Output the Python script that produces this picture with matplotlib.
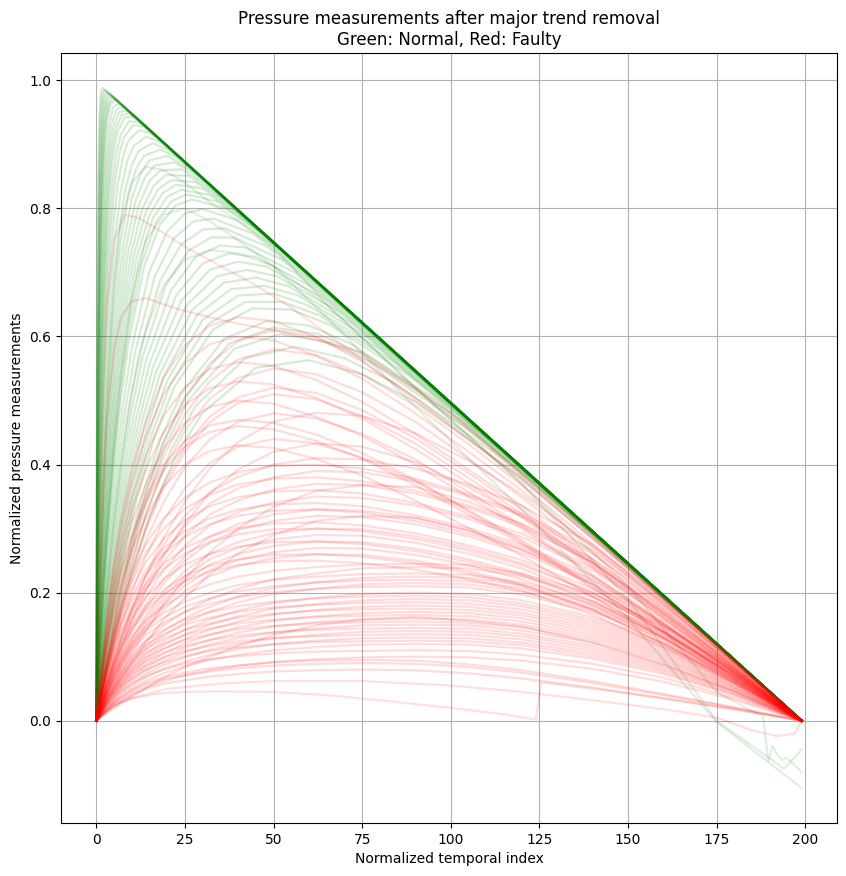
import numpy as np
import matplotlib
matplotlib.use("Agg")
import matplotlib.pyplot as plt

# normal runs (green): each run read at its own indices, dense on the rise,
# then straight down the trend line to the last index
normal_t = [
    [0, .075, .15, .225, .3, .45, .6, .75, .9, 1.2, 1.5, 1.8, 199],
    [0, .1, .2, .3, .4, .6, .8, 1, 1.2, 1.6, 2, 2.4, 199],
    [0, .125, .25, .375, .5, .75, 1, 1.25, 1.5, 2, 2.5, 3, 199],
    [0, .15, .3, .45, .6, .9, 1.2, 1.5, 1.8, 2.4, 3, 3.6, 199],
    [0, .175, .35, .525, .7, 1.05, 1.4, 1.75, 2.1, 2.8, 3.5, 4.2, 199],
    [0, .2, .4, .6, .8, 1.2, 1.6, 2, 2.4, 3.2, 4, 4.8, 199],
    [0, .225, .45, .675, .9, 1.35, 1.8, 2.25, 2.7, 3.6, 4.5, 5.4, 199],
    [0, .25, .5, .75, 1, 1.5, 2, 2.5, 3, 4, 5, 6, 199],
    [0, .3, .6, .9, 1.2, 1.8, 2.4, 3, 3.6, 4.8, 6, 7.2, 199],
    [0, .35, .7, 1.05, 1.4, 2.1, 2.8, 3.5, 4.2, 5.6, 7, 8.4, 199],
    [0, .4, .8, 1.2, 1.6, 2.4, 3.2, 4, 4.8, 6.4, 8, 9.6, 199],
    [0, .45, .9, 1.35, 1.8, 2.7, 3.6, 4.5, 5.4, 7.2, 9, 10.8, 199],
    [0, .5, 1, 1.5, 2, 3, 4, 5, 6, 8, 10, 12, 199],
    [0, .575, 1.15, 1.725, 2.3, 3.45, 4.6, 5.75, 6.9, 9.2, 11.5, 13.8, 199],
    [0, .65, 1.3, 1.95, 2.6, 3.9, 5.2, 6.5, 7.8, 10.4, 13, 15.6, 199],
    [0, .75, 1.5, 2.25, 3, 4.5, 6, 7.5, 9, 12, 15, 18, 199],
    [0, .875, 1.75, 2.625, 3.5, 5.25, 7, 8.75, 10.5, 14, 17.5, 21, 199],
    [0, 1, 2, 3, 4, 6, 8, 10, 12, 16, 20, 24, 199],
    [0, 1.125, 2.25, 3.375, 4.5, 6.75, 9, 11.25, 13.5, 18, 22.5, 27, 199],
    [0, 1.25, 2.5, 3.75, 5, 7.5, 10, 12.5, 15, 20, 25, 30, 199],
    [0, 1.375, 2.75, 4.125, 5.5, 8.25, 11, 13.75, 16.5, 22, 27.5, 33, 199],
    [0, 1.5, 3, 4.5, 6, 9, 12, 15, 18, 24, 30, 36, 199],
    [0, 1.625, 3.25, 4.875, 6.5, 9.75, 13, 16.25, 19.5, 26, 32.5, 39, 199],
    [0, 1.75, 3.5, 5.25, 7, 10.5, 14, 17.5, 21, 28, 35, 42, 199],
    [0, 1.875, 3.75, 5.625, 7.5, 11.25, 15, 18.75, 22.5, 30, 37.5, 45, 199],
    [0, 2, 4, 6, 8, 12, 16, 20, 24, 32, 40, 48, 199],
    [0, 2.125, 4.25, 6.375, 8.5, 12.75, 17, 21.25, 25.5, 34, 42.5, 51, 199],
    [0, 2.25, 4.5, 6.75, 9, 13.5, 18, 22.5, 27, 36, 45, 54, 199],
    [0, 2.5, 5, 7.5, 10, 15, 20, 25, 30, 40, 50, 60, 199],
    [0, 2.75, 5.5, 8.25, 11, 16.5, 22, 27.5, 33, 44, 55, 66, 199],
    [0, 3, 6, 9, 12, 18, 24, 30, 36, 48, 60, 72, 199],
    [0, 3.25, 6.5, 9.75, 13, 19.5, 26, 32.5, 39, 52, 65, 78, 199],
    [0, 3.5, 7, 10.5, 14, 21, 28, 35, 42, 56, 70, 84, 199],
    [0, 3.75, 7.5, 11.25, 15, 22.5, 30, 37.5, 45, 60, 75, 90, 199],
    [0, 4, 8, 12, 16, 24, 32, 40, 48, 64, 80, 96, 199],
    [0, 4.25, 8.5, 12.75, 17, 25.5, 34, 42.5, 51, 68, 85, 102, 199],
    [0, 4.5, 9, 13.5, 18, 27, 36, 45, 54, 72, 90, 108, 199],
    [0, 4.75, 9.5, 14.25, 19, 28.5, 38, 47.5, 57, 76, 95, 114, 199],
    [0, 5, 10, 15, 20, 30, 40, 50, 60, 80, 100, 120, 199],
    [0, 5.25, 10.5, 15.75, 21, 31.5, 42, 52.5, 63, 84, 105, 126, 199],
    [0, 5.5, 11, 16.5, 22, 33, 44, 55, 66, 88, 110, 132, 199],
    [0, 6, 12, 18, 24, 36, 48, 60, 72, 96, 120, 144, 199],
    [0, 6.25, 12.5, 18.75, 25, 37.5, 50, 62.5, 75, 100, 125, 150, 199],
    [0, 6.5, 13, 19.5, 26, 39, 52, 65, 78, 104, 130, 156, 199],
    [0, 7, 14, 21, 28, 42, 56, 70, 84, 112, 140, 168, 199],
    [0, 7.5, 15, 22.5, 30, 45, 60, 75, 90, 120, 150, 180, 199],
]
normal_y = [
    [0, .221, .392, .527, .630, .775, .862, .914, .945, .976, .985, .988, 0],
    [0, .22, .392, .526, .63, .774, .861, .913, .944, .974, .983, .985, 0],
    [0, .22, .392, .526, .63, .773, .86, .912, .943, .972, .98, .983, 0],
    [0, .22, .392, .526, .629, .773, .859, .911, .941, .97, .978, .98, 0],
    [0, .22, .391, .525, .628, .772, .858, .909, .94, .968, .975, .977, 0],
    [0, .22, .391, .525, .628, .771, .857, .908, .938, .966, .973, .974, 0],
    [0, .22, .391, .525, .628, .77, .856, .907, .937, .964, .971, .971, 0],
    [0, .22, .39, .524, .627, .769, .855, .905, .935, .962, .968, .968, 0],
    [0, .22, .39, .524, .626, .768, .853, .903, .932, .958, .963, .962, 0],
    [0, .219, .39, .523, .625, .767, .851, .9, .929, .954, .958, .956, 0],
    [0, .219, .389, .522, .624, .765, .849, .898, .926, .95, .953, .95, 0],
    [0, .219, .389, .521, .623, .763, .847, .896, .923, .946, .948, .944, 0],
    [0, .218, .388, .52, .622, .762, .845, .893, .92, .942, .943, .937, 0],
    [0, .218, .387, .519, .62, .76, .842, .889, .915, .936, .935, .928, 0],
    [0, .218, .386, .518, .619, .757, .839, .885, .911, .93, .928, .919, 0],
    [0, .217, .385, .517, .617, .754, .835, .88, .905, .922, .918, .907, 0],
    [0, .217, .384, .515, .614, .751, .83, .874, .897, .912, .905, .892, 0],
    [0, .216, .383, .513, .612, .747, .825, .868, .89, .902, .892, .877, 0],
    [0, .215, .382, .511, .609, .743, .82, .862, .882, .892, .88, .862, 0],
    [0, .215, .38, .509, .607, .739, .815, .855, .875, .882, .867, .847, 0],
    [0, .214, .379, .507, .604, .736, .81, .849, .867, .872, .855, .832, 0],
    [0, .213, .378, .505, .602, .732, .805, .843, .859, .861, .842, .816, 0],
    [0, .213, .377, .503, .599, .728, .8, .836, .852, .851, .829, .801, 0],
    [0, .212, .375, .502, .597, .724, .795, .83, .844, .841, .817, .786, 0],
    [0, .212, .374, .5, .594, .72, .79, .824, .837, .831, .804, .771, 0],
    [0, .211, .373, .498, .592, .717, .785, .818, .829, .821, .792, .756, 0],
    [0, .21, .372, .496, .589, .713, .78, .811, .822, .811, .779, .741, 0],
    [0, .21, .37, .494, .587, .709, .775, .805, .814, .801, .767, .726, 0],
    [0, .208, .368, .49, .582, .702, .764, .792, .799, .781, .742, .696, 0],
    [0, .207, .365, .487, .577, .694, .754, .78, .784, .761, .716, .666, 0],
    [0, .206, .363, .483, .572, .687, .744, .767, .769, .741, .691, .636, 0],
    [0, .205, .36, .479, .567, .679, .734, .755, .754, .721, .666, .606, 0],
    [0, .203, .358, .475, .562, .671, .724, .742, .739, .7, .641, .575, 0],
    [0, .202, .355, .471, .557, .664, .714, .73, .724, .68, .616, .545, 0],
    [0, .201, .353, .468, .552, .656, .704, .717, .709, .66, .591, .515, 0],
    [0, .2, .35, .464, .547, .649, .694, .704, .694, .64, .566, .485, 0],
    [0, .198, .348, .46, .542, .641, .684, .692, .679, .62, .541, .455, 0],
    [0, .197, .345, .456, .537, .634, .674, .679, .664, .6, .515, .424, 0],
    [0, .196, .343, .453, .531, .626, .664, .667, .648, .58, .49, .394, 0],
    [0, .195, .34, .449, .526, .619, .654, .654, .633, .56, .465, .364, 0],
    [0, .193, .338, .445, .521, .611, .644, .642, .618, .54, .44, .334, 0],
    [0, .191, .333, .438, .511, .596, .624, .617, .588, .5, .39, .274, 0],
    [0, .19, .33, .434, .506, .589, .614, .604, .573, .48, .365, .244, 0],
    [0, .188, .328, .43, .501, .581, .604, .591, .558, .459, .34, .213, 0],
    [0, .186, .323, .422, .491, .566, .584, .566, .528, .419, .29, .153, 0],
    [0, .183, .318, .415, .481, .551, .563, .541, .498, .379, .239, .093, 0],
]

# normal runs with a disturbed ending (they finish below zero)
normal_odd_t = [
    [0, 1, 2, 3, 5, 7, 10, 14, 19, 25, 32, 40, 50, 65, 90, 120, 150, 175, 199],
    [0, 1, 2, 3, 5, 7, 10, 14, 19, 25, 32, 40, 50, 65, 90, 120, 150, 175, 185, 188,
     189.6, 190.7, 192, 193.5, 194.4, 195.8, 199],
    [0, 1, 2, 3, 5, 7, 10, 14, 19, 25, 32, 40, 50, 65, 90, 120, 150, 175, 194, 199],
]
normal_odd_y = [
    [0, .11, .21, .29, .43, .54, .66, .75, .79, .80, .78, .75, .71, .63, .49, .33, .16, -.002, -.105],
    [0, .2, .37, .5, .68, .78, .84, .865, .86, .84, .81, .78, .74, .65, .52, .37, .21, .045, .015, .008,
     -.063, -.039, -.052, -.062, -.058, -.063, -.08],
    [0, .075, .14, .2, .31, .40, .51, .61, .68, .72, .735, .73, .71, .65, .52, .37, .19, .0, -.075, -.045],
]

# faulty runs (red), all read at the same indices
t_faulty = [0, 1, 2, 3, 5, 7, 10, 14, 19, 25, 32, 40, 50, 62, 75, 90, 105, 120, 140, 160, 180, 199]
faulty_curves = [
    [0, .057, .113, .164, .246, .315, .391, .466, .536, .586, .617, .63, .624, .599, .561, .504, .441, .378, .284, .189, .095, 0],
    [0, .034, .066, .098, .155, .207, .278, .357, .434, .503, .558, .593, .61, .60, .569, .518, .454, .387, .29, .193, .093, 0],
    [0, .054, .108, .156, .234, .30, .372, .444, .51, .558, .588, .60, .594, .57, .534, .48, .42, .36, .27, .18, .09, 0],
    [0, .032, .063, .093, .147, .197, .264, .339, .413, .478, .53, .564, .58, .571, .541, .492, .432, .368, .276, .183, .089, 0],
    [0, .05, .101, .146, .218, .28, .347, .414, .476, .521, .549, .56, .554, .532, .498, .448, .392, .336, .252, .168, .084, 0],
    [0, .03, .06, .088, .14, .187, .251, .322, .392, .453, .503, .535, .55, .541, .513, .467, .409, .349, .262, .174, .084, 0],
    [0, .048, .095, .138, .207, .265, .329, .392, .451, .493, .519, .53, .525, .504, .472, .424, .371, .318, .239, .159, .08, 0],
    [0, .029, .057, .083, .132, .177, .237, .304, .37, .428, .475, .505, .52, .512, .485, .441, .387, .33, .248, .164, .08, 0],
    [0, .020, .039, .058, .094, .127, .173, .227, .286, .342, .394, .435, .467, .481, .476, .449, .406, .354, .273, .185, .091, 0],
    [0, .028, .056, .082, .13, .173, .233, .298, .363, .42, .466, .496, .51, .502, .476, .433, .379, .323, .243, .161, .078, 0],
    [0, .045, .09, .13, .195, .25, .31, .37, .425, .465, .49, .50, .495, .475, .445, .40, .35, .30, .225, .15, .075, 0],
    [0, .026, .052, .077, .122, .163, .219, .281, .342, .396, .439, .467, .48, .472, .448, .408, .357, .304, .228, .152, .073, 0],
    [0, .042, .085, .122, .183, .235, .291, .348, .40, .437, .461, .47, .465, .447, .418, .376, .329, .282, .212, .141, .071, 0],
    [0, .018, .035, .052, .085, .114, .156, .204, .257, .308, .355, .392, .42, .433, .428, .404, .365, .319, .246, .167, .082, 0],
    [0, .041, .083, .12, .179, .23, .285, .34, .391, .428, .451, .46, .455, .437, .409, .368, .322, .276, .207, .138, .069, 0],
    [0, .024, .048, .07, .112, .15, .201, .257, .313, .363, .402, .428, .44, .433, .411, .374, .327, .279, .209, .139, .067, 0],
    [0, .039, .077, .112, .168, .215, .267, .318, .366, .40, .421, .43, .426, .409, .383, .344, .301, .258, .194, .129, .065, 0],
    [0, .021, .041, .062, .098, .131, .176, .226, .275, .32, .357, .381, .40, .41, .408, .394, .369, .336, .275, .189, .094, 0],
    [0, .032, .064, .092, .14, .18, .228, .276, .316, .348, .372, .388, .398, .40, .394, .378, .354, .324, .266, .184, .092, 0],
    [0, .02, .039, .059, .094, .125, .168, .215, .261, .304, .339, .363, .38, .39, .388, .374, .351, .32, .261, .179, .09, 0],
    [0, .03, .061, .087, .133, .171, .217, .262, .30, .331, .353, .369, .378, .38, .374, .359, .336, .308, .253, .175, .087, 0],
    [0, .012, .023, .035, .055, .076, .105, .14, .182, .221, .263, .30, .334, .359, .368, .365, .342, .307, .246, .171, .087, 0],
    [0, .019, .037, .056, .089, .118, .159, .204, .248, .289, .322, .344, .361, .37, .368, .355, .333, .303, .248, .17, .085, 0],
    [0, .029, .058, .083, .126, .162, .205, .248, .284, .313, .335, .349, .358, .36, .355, .34, .319, .292, .239, .166, .083, 0],
    [0, .018, .035, .053, .084, .112, .151, .193, .235, .273, .305, .326, .341, .35, .348, .336, .315, .287, .235, .161, .081, 0],
    [0, .027, .054, .078, .119, .153, .194, .235, .269, .296, .316, .33, .338, .34, .335, .321, .301, .275, .226, .156, .078, 0],
    [0, .017, .033, .05, .079, .106, .142, .182, .221, .257, .287, .307, .322, .33, .328, .317, .297, .271, .221, .152, .076, 0],
    [0, .026, .053, .076, .116, .149, .188, .228, .261, .287, .307, .32, .328, .33, .325, .312, .292, .267, .219, .152, .076, 0],
    [0, .016, .032, .048, .077, .102, .138, .176, .214, .25, .278, .298, .312, .32, .318, .307, .288, .262, .214, .147, .074, 0],
    [0, .010, .020, .030, .048, .066, .091, .122, .158, .192, .229, .261, .290, .312, .320, .317, .297, .267, .214, .149, .076, 0],
    [0, .025, .05, .071, .109, .14, .177, .214, .245, .27, .288, .301, .308, .31, .305, .293, .274, .251, .206, .143, .071, 0],
    [0, .015, .03, .045, .072, .096, .129, .165, .201, .234, .261, .279, .293, .30, .299, .288, .27, .246, .201, .138, .069, 0],
    [0, .024, .048, .069, .105, .135, .171, .207, .237, .261, .279, .291, .299, .30, .296, .284, .266, .243, .20, .138, .069, 0],
    [0, .015, .029, .044, .07, .093, .125, .16, .194, .226, .252, .27, .283, .29, .289, .278, .261, .238, .194, .133, .067, 0],
    [0, .022, .045, .064, .098, .126, .16, .193, .221, .244, .26, .272, .279, .28, .276, .265, .248, .227, .186, .129, .064, 0],
    [0, .014, .028, .042, .067, .09, .12, .154, .188, .218, .244, .26, .273, .28, .279, .269, .252, .23, .188, .129, .064, 0],
    [0, .014, .027, .041, .065, .086, .116, .149, .181, .211, .235, .251, .263, .27, .269, .259, .243, .221, .181, .124, .062, 0],
    [0, .021, .042, .06, .091, .117, .148, .179, .205, .226, .242, .252, .259, .26, .256, .246, .23, .211, .173, .12, .06, 0],
    [0, .013, .026, .039, .062, .083, .112, .143, .174, .203, .226, .242, .254, .26, .259, .25, .234, .213, .174, .12, .06, 0],
    [0, .02, .04, .058, .088, .113, .143, .173, .198, .218, .233, .243, .249, .25, .246, .236, .221, .203, .166, .115, .058, 0],
    [0, .02, .037, .054, .081, .103, .13, .157, .179, .198, .213, .225, .234, .24, .244, .245, .243, .23, .198, .149, .081, 0],
    [0, .012, .024, .036, .055, .074, .098, .125, .149, .17, .19, .206, .221, .23, .238, .24, .238, .226, .194, .146, .079, 0],
    [0, .018, .035, .051, .076, .097, .122, .147, .168, .186, .20, .212, .22, .225, .229, .23, .228, .216, .186, .14, .076, 0],
    [0, .011, .023, .034, .052, .07, .092, .117, .14, .16, .178, .194, .207, .216, .223, .225, .223, .212, .182, .137, .074, 0],
    [0, .018, .033, .048, .073, .092, .117, .141, .161, .178, .191, .202, .21, .216, .219, .22, .218, .207, .178, .134, .073, 0],
    [0, .011, .022, .032, .049, .067, .088, .112, .133, .153, .17, .185, .198, .206, .213, .215, .213, .202, .174, .131, .071, 0],
    [0, .017, .032, .046, .069, .088, .111, .134, .153, .17, .183, .193, .201, .206, .209, .21, .208, .197, .17, .128, .069, 0],
    [0, .01, .02, .03, .046, .062, .082, .104, .124, .142, .158, .172, .184, .192, .198, .20, .198, .188, .162, .122, .066, 0],
    [0, .016, .029, .043, .064, .082, .103, .125, .142, .158, .17, .179, .186, .191, .194, .195, .193, .183, .158, .119, .064, 0],
    [0, .01, .019, .029, .044, .059, .078, .099, .118, .135, .15, .163, .175, .182, .188, .19, .188, .179, .154, .116, .063, 0],
    [0, .015, .028, .041, .061, .078, .098, .118, .135, .15, .161, .17, .177, .181, .184, .185, .183, .174, .15, .113, .061, 0],
    [0, .009, .018, .027, .041, .056, .074, .094, .112, .128, .142, .155, .166, .173, .178, .18, .178, .169, .146, .11, .059, 0],
    [0, .014, .026, .039, .058, .074, .093, .112, .128, .142, .152, .161, .167, .172, .174, .175, .173, .165, .142, .107, .058, 0],
    [0, .009, .017, .026, .039, .053, .07, .088, .105, .121, .134, .146, .156, .163, .168, .17, .168, .16, .138, .104, .056, 0],
    [0, .013, .025, .036, .054, .069, .087, .106, .12, .134, .144, .152, .158, .162, .164, .165, .163, .155, .134, .101, .054, 0],
    [0, .004, .008, .012, .02, .028, .037, .051, .067, .084, .10, .117, .134, .149, .158, .162, .156, .147, .122, .088, .046, 0],
    [0, .008, .016, .024, .037, .05, .066, .083, .099, .114, .126, .138, .147, .154, .158, .16, .158, .15, .13, .098, .053, 0],
    [0, .012, .023, .034, .051, .065, .082, .099, .113, .126, .135, .143, .148, .152, .154, .155, .153, .146, .126, .095, .051, 0],
    [0, .008, .015, .023, .035, .047, .062, .078, .093, .107, .119, .129, .138, .144, .149, .15, .149, .141, .122, .092, .05, 0],
    [0, .012, .022, .032, .048, .061, .077, .093, .106, .117, .126, .133, .138, .142, .144, .145, .144, .136, .117, .088, .048, 0],
    [0, .007, .014, .021, .032, .043, .057, .073, .087, .099, .111, .12, .129, .134, .139, .14, .139, .132, .113, .085, .046, 0],
    [0, .011, .02, .03, .045, .057, .072, .086, .099, .109, .117, .124, .129, .132, .134, .135, .134, .127, .109, .082, .045, 0],
    [0, .007, .013, .02, .03, .04, .053, .068, .081, .092, .103, .112, .12, .125, .129, .13, .129, .122, .105, .079, .043, 0],
    [0, .01, .019, .028, .041, .053, .066, .08, .091, .101, .109, .115, .119, .123, .124, .125, .124, .118, .101, .076, .041, 0],
    [0, .006, .012, .018, .028, .037, .049, .062, .074, .085, .095, .103, .11, .115, .119, .12, .119, .113, .097, .073, .04, 0],
    [0, .009, .017, .024, .036, .046, .058, .07, .08, .089, .096, .101, .105, .108, .109, .11, .109, .103, .089, .067, .036, 0],
    [0, .005, .01, .015, .023, .031, .041, .052, .062, .071, .079, .086, .092, .096, .099, .10, .099, .094, .081, .061, .033, 0],
    [0, .006, .012, .018, .029, .036, .048, .059, .068, .075, .082, .086, .091, .094, .095, .094, .088, .079, .062, .042, .021, 0],
    [0, .006, .012, .017, .027, .034, .045, .056, .065, .071, .077, .082, .086, .089, .09, .089, .084, .075, .059, .04, .02, 0],
    [0, .005, .01, .015, .024, .03, .04, .05, .058, .063, .069, .073, .077, .079, .08, .079, .074, .066, .052, .035, .018, 0],
    [0, .2, .36, .47, .58, .63, .655, .66, .65, .64, .63, .62, .61, .595, .575, .52, .46, .385, .29, .19, .093, 0],
]

# faulty runs that do not share the common indices
faulty_odd_t = [
    [0, 1, 2, 3, 5, 8, 12, 18, 25, 35, 45, 55, 65, 78, 90, 105, 120, 140, 160, 180, 199],
    [0, 2, 5, 10, 17, 25, 35, 50, 65, 80, 100, 115, 124, 125.5, 140, 160, 180, 199],
    [0, 2, 5, 10, 20, 35, 50, 75, 100, 120, 140, 160, 175, 185, 192, 197, 199],
]
faulty_odd_y = [
    [0, .3, .52, .65, .75, .79, .785, .765, .74, .71, .68, .645, .605, .55, .50, .44, .375, .285, .19, .092, 0],
    [0, .012, .025, .035, .042, .045, .046, .045, .04, .032, .02, .01, .002, .06, .05, .035, .018, 0],
    [0, .01, .022, .035, .05, .058, .062, .062, .055, .045, .032, .018, .005, -.015, -.024, -.02, 0],
]


# draw one group of runs in a single colour
def plot_runs(ax, t_list, y_list, color, alpha):
    for xs, ys in zip(t_list, y_list):
        ax.plot(xs, ys, color=color, alpha=alpha, linewidth=1.6)


def main():
    fig = plt.figure(figsize=(8.46, 8.76), dpi=100)
    ax = fig.add_axes([61 / 846, 53 / 876, 776 / 846, 770 / 876])

    plot_runs(ax, normal_t, normal_y, "green", 0.16)
    plot_runs(ax, normal_odd_t, normal_odd_y, "green", 0.12)
    plot_runs(ax, [t_faulty] * len(faulty_curves), faulty_curves, "red", 0.14)
    plot_runs(ax, faulty_odd_t, faulty_odd_y, "red", 0.12)

    ax.set_title("Pressure measurements after major trend removal\nGreen: Normal, Red: Faulty")
    ax.set_xlabel("Normalized temporal index")
    ax.set_ylabel("Normalized pressure measurements")
    ax.grid(True)
    fig.savefig("out.png", dpi=100)


if __name__ == '__main__':
    main()
